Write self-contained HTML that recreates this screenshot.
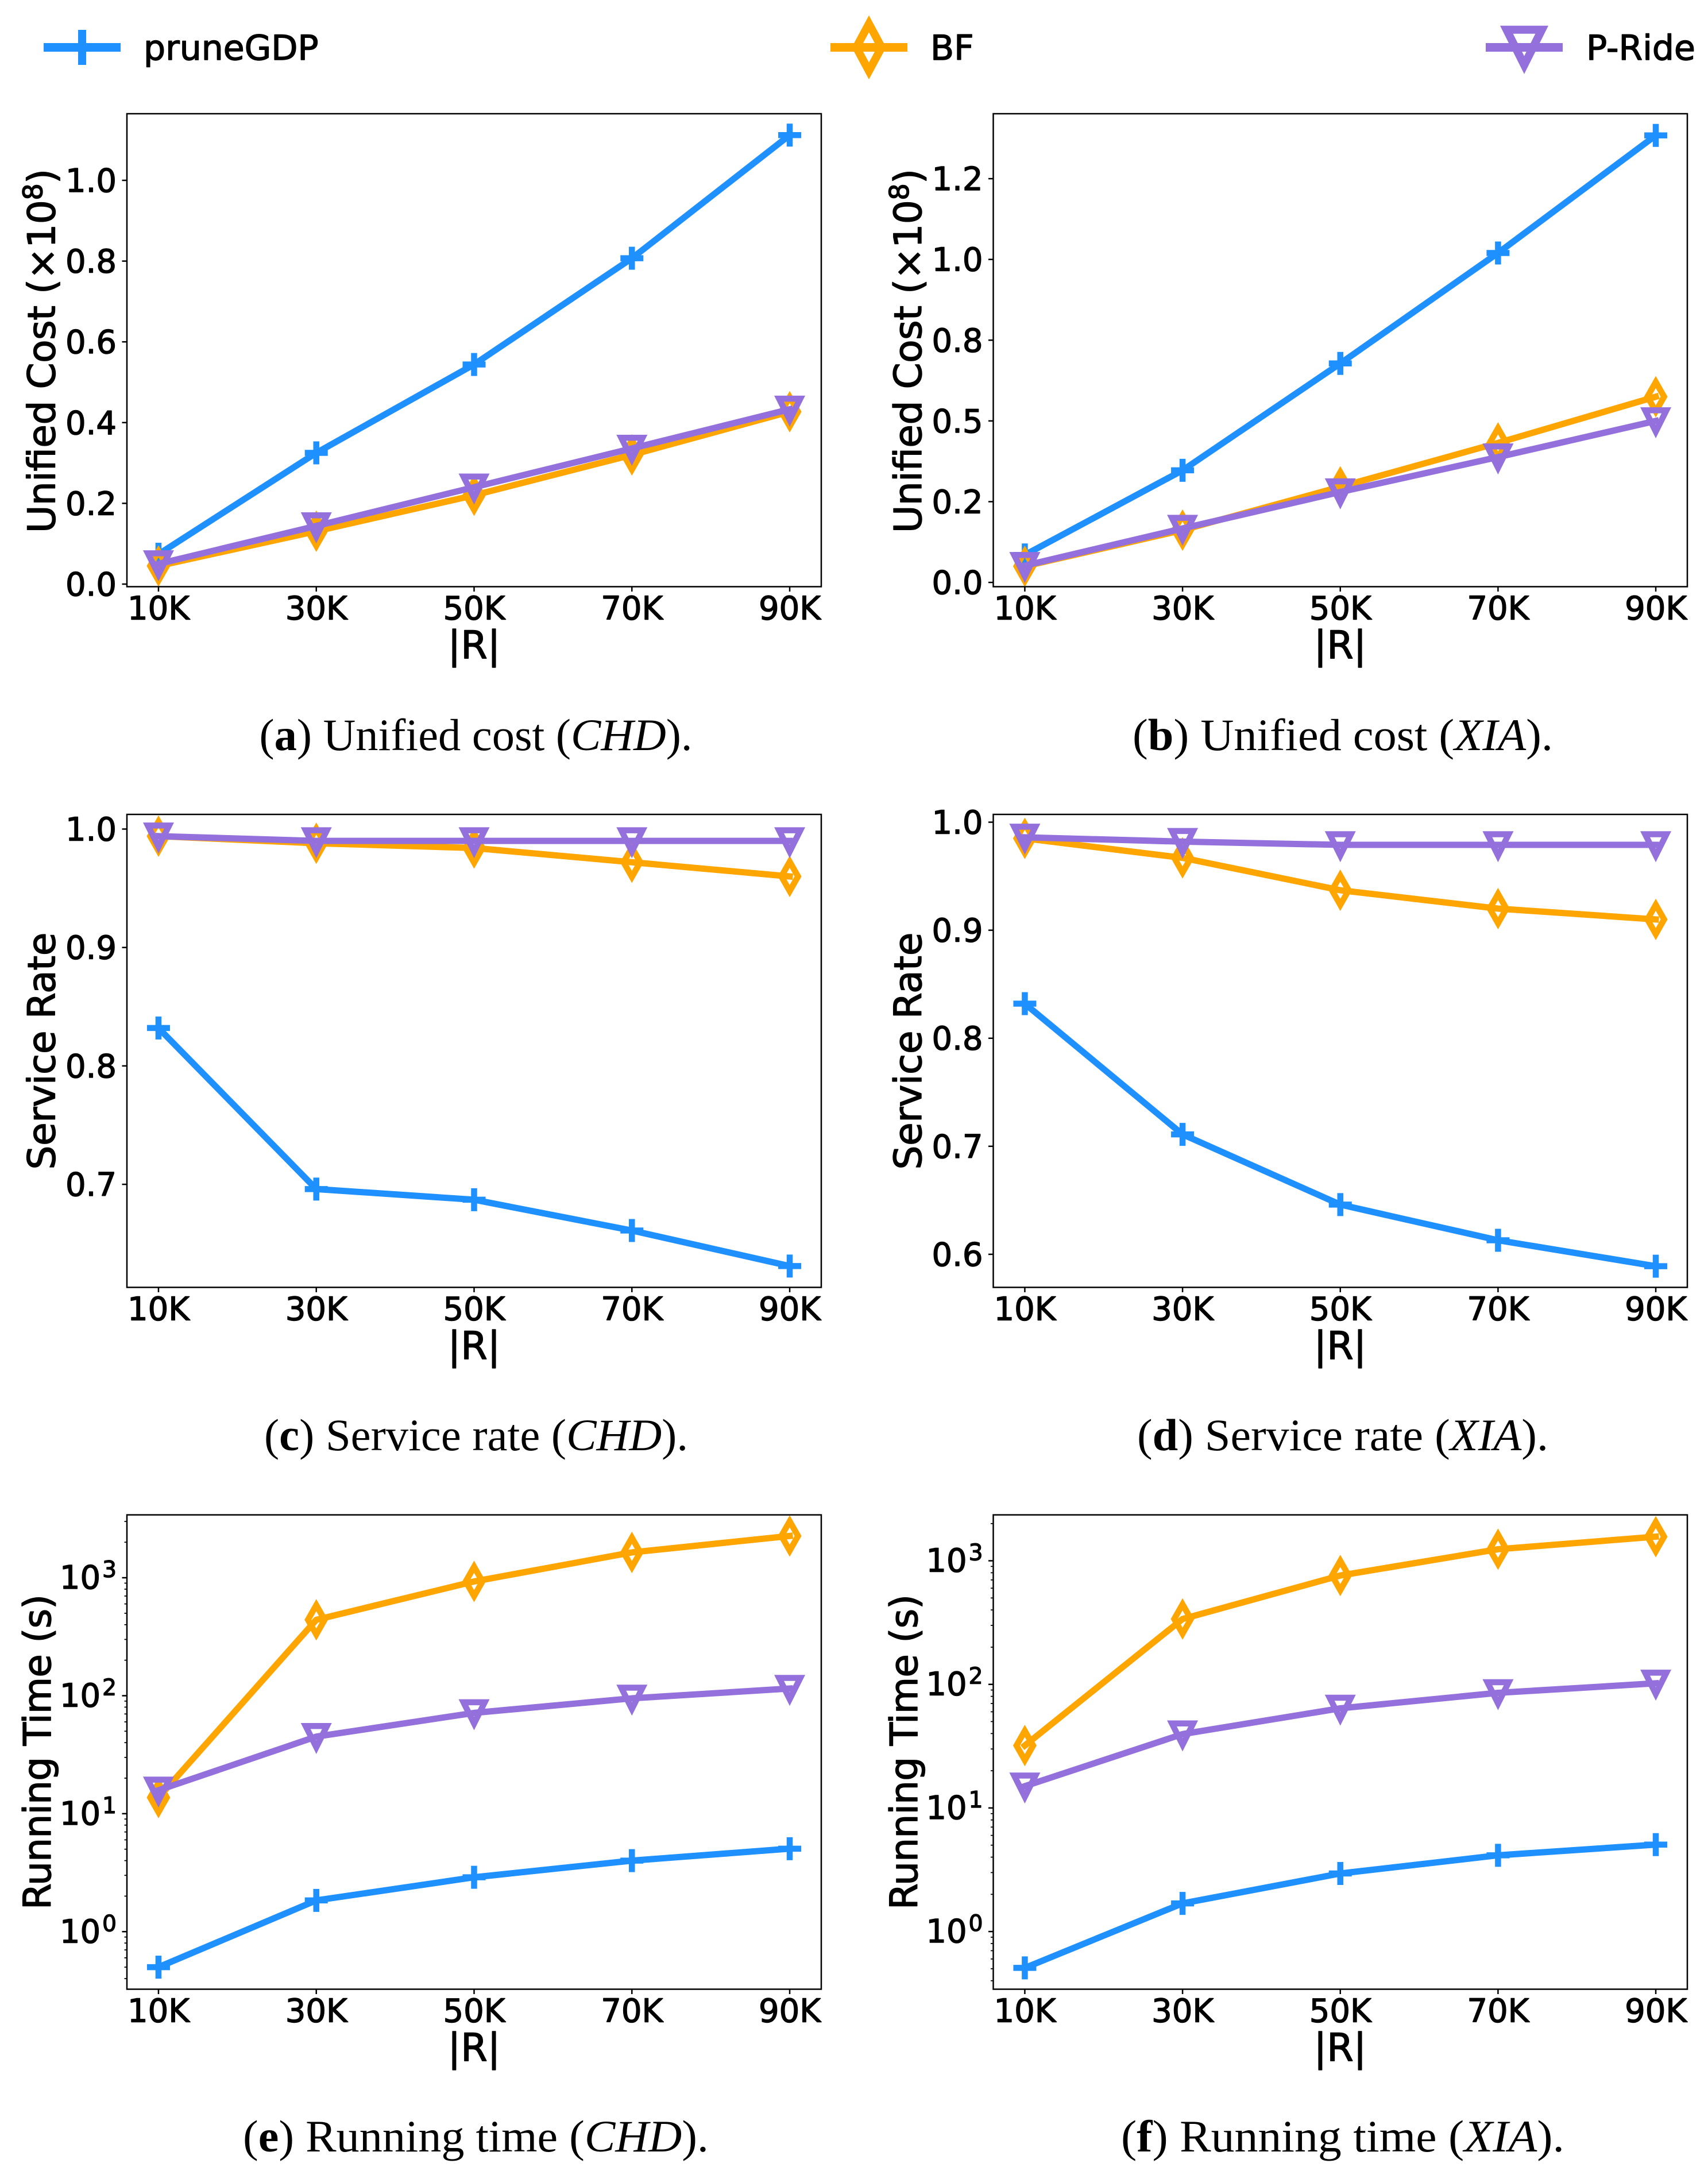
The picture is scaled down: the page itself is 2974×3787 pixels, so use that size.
<!DOCTYPE html>
<html lang="en">
<head>
<meta charset="utf-8">
<title>Unified cost, service rate and running time</title>
<style>
html,body{margin:0;padding:0;background:#fff;}
svg{display:block;}
.sans{font-family:"DejaVu Sans",sans-serif;fill:#000;stroke:#000;stroke-width:1.4px;stroke-linejoin:round;}
.serif{font-family:"Liberation Serif",serif;fill:#000;font-size:78px;}
</style>
</head>
<body>
<svg id="figure" xmlns="http://www.w3.org/2000/svg" width="2974" height="3787" viewBox="0 0 2974 3787">
  <rect x="0" y="0" width="2974" height="3787" fill="#fff"/>

  <g>
    <g>
      <line x1="76" x2="210" y1="82.5" y2="82.5" stroke="#1e90ff" stroke-width="15"/>
      <line x1="143" x2="143" y1="52" y2="113" stroke="#1e90ff" stroke-width="14"/>
      <text class="sans" x="250" y="104" font-size="60">pruneGDP</text>
    </g>
    <g>
      <line x1="1446" x2="1580" y1="82.5" y2="82.5" stroke="#ffa500" stroke-width="15"/>
      <path d="M1513 41.5L1535 82.5L1513 123.5L1491 82.5Z" fill="none" stroke="#ffa500" stroke-width="14" stroke-miterlimit="10"/>
      <text class="sans" x="1620" y="104" font-size="60">BF</text>
    </g>
    <g>
      <line x1="2587" x2="2721" y1="82.5" y2="82.5" stroke="#9370db" stroke-width="15"/>
      <path d="M2654 113.2L2623.3 51.8L2684.7 51.8Z" fill="none" stroke="#9370db" stroke-width="14" stroke-miterlimit="10"/>
      <text class="sans" x="2762" y="104" font-size="60">P-Ride</text>
    </g>
  </g>

  <g>
    <text class="sans" font-size="66" text-anchor="middle" textLength="634" lengthAdjust="spacing" transform="translate(95.5 611) rotate(-90)">Unified Cost (×10<tspan font-size="46" dy="-22">8</tspan><tspan dy="22">)</tspan></text>
    <text class="sans" font-size="66" text-anchor="middle" textLength="634" lengthAdjust="spacing" transform="translate(1604 611) rotate(-90)">Unified Cost (×10<tspan font-size="46" dy="-22">8</tspan><tspan dy="22">)</tspan></text>
    <text class="sans" font-size="66" text-anchor="middle" textLength="413" lengthAdjust="spacing" transform="translate(95.5 1830) rotate(-90)">Service Rate</text>
    <text class="sans" font-size="66" text-anchor="middle" textLength="413" lengthAdjust="spacing" transform="translate(1604 1830) rotate(-90)">Service Rate</text>
    <text class="sans" font-size="66" text-anchor="middle" textLength="549" lengthAdjust="spacing" transform="translate(88 3050.5) rotate(-90)">Running Time (s)</text>
    <text class="sans" font-size="66" text-anchor="middle" textLength="549" lengthAdjust="spacing" transform="translate(1597 3050.5) rotate(-90)">Running Time (s)</text>
  </g>

  <g>
    <text class="sans" font-size="67" text-anchor="middle" x="825.5" y="1146">|R|</text>
    <text class="sans" font-size="67" text-anchor="middle" x="2333.5" y="1146">|R|</text>
    <text class="sans" font-size="67" text-anchor="middle" x="825.5" y="2366">|R|</text>
    <text class="sans" font-size="67" text-anchor="middle" x="2333.5" y="2366">|R|</text>
    <text class="sans" font-size="67" text-anchor="middle" x="825.5" y="3588">|R|</text>
    <text class="sans" font-size="67" text-anchor="middle" x="2333.5" y="3588">|R|</text>
  </g>

  <g>
    <text class="serif" x="451.5" y="1306" textLength="754" lengthAdjust="spacingAndGlyphs">(<tspan font-weight="bold">a</tspan>) Unified cost (<tspan font-style="italic">CHD</tspan>).</text>
    <text class="serif" x="1972" y="1306" textLength="732" lengthAdjust="spacingAndGlyphs">(<tspan font-weight="bold">b</tspan>) Unified cost (<tspan font-style="italic">XIA</tspan>).</text>
    <text class="serif" x="460" y="2525" textLength="738" lengthAdjust="spacingAndGlyphs">(<tspan font-weight="bold">c</tspan>) Service rate (<tspan font-style="italic">CHD</tspan>).</text>
    <text class="serif" x="1980" y="2525" textLength="716" lengthAdjust="spacingAndGlyphs">(<tspan font-weight="bold">d</tspan>) Service rate (<tspan font-style="italic">XIA</tspan>).</text>
    <text class="serif" x="423" y="3746" textLength="811" lengthAdjust="spacingAndGlyphs">(<tspan font-weight="bold">e</tspan>) Running time (<tspan font-style="italic">CHD</tspan>).</text>
    <text class="serif" x="1952" y="3746" textLength="772" lengthAdjust="spacingAndGlyphs">(<tspan font-weight="bold">f</tspan>) Running time (<tspan font-style="italic">XIA</tspan>).</text>
  </g>

  <g id="panels"></g>
</svg>

<script>
// Shared categories
const categories = ['10K', '30K', '50K', '70K', '90K'];

// (a) Unified cost, CHD (x 10^8)
const costChdPrune = [0.074, 0.325, 0.544, 0.807, 1.112];
const costChdBf = [0.045, 0.131, 0.220, 0.320, 0.427];
const costChdPride = [0.050, 0.144, 0.240, 0.336, 0.433];
const costChdTicks = [0, 0.2, 0.4, 0.6, 0.8, 1.0];
const costChdTickLabels = ['0.0', '0.2', '0.4', '0.6', '0.8', '1.0'];

// (b) Unified cost, XIA (x 10^8)
const costXiaPrune = [0.085, 0.347, 0.678, 1.020, 1.384];
const costXiaBf = [0.050, 0.162, 0.296, 0.432, 0.575];
const costXiaPride = [0.052, 0.167, 0.280, 0.388, 0.500];
const costXiaTicks = [0, 0.25, 0.5, 0.75, 1.0, 1.25];
const costXiaTickLabels = ['0.0', '0.2', '0.5', '0.8', '1.0', '1.2'];

// (c) Service rate, CHD
const rateChdPrune = [0.832, 0.696, 0.687, 0.661, 0.631];
const rateChdBf = [0.994, 0.988, 0.984, 0.972, 0.960];
const rateChdPride = [0.994, 0.990, 0.990, 0.990, 0.990];
const rateChdTicks = [0.7, 0.8, 0.9, 1.0];
const rateChdTickLabels = ['0.7', '0.8', '0.9', '1.0'];

// (d) Service rate, XIA
const rateXiaPrune = [0.832, 0.711, 0.646, 0.613, 0.589];
const rateXiaBf = [0.985, 0.967, 0.937, 0.920, 0.910];
const rateXiaPride = [0.986, 0.982, 0.979, 0.979, 0.979];
const rateXiaTicks = [0.6, 0.7, 0.8, 0.9, 1.0];
const rateXiaTickLabels = ['0.6', '0.7', '0.8', '0.9', '1.0'];

// (e) Running time, CHD (seconds)
const timeChdPrune = [0.5, 1.84, 2.89, 4.0, 5.05];
const timeChdBf = [13.7, 440, 930, 1640, 2260];
const timeChdPride = [15.8, 45, 71.5, 95, 115];

// (f) Running time, XIA (seconds)
const timeXiaPrune = [0.508, 1.69, 2.95, 4.14, 5.05];
const timeXiaBf = [32, 338, 760, 1240, 1567];
const timeXiaPride = [15.0, 39.6, 64, 85.4, 102];

// Log axis tick values
const logMajorExponents = [0, 1, 2, 3];
const logMinorFactors = [2, 3, 4, 5, 6, 7, 8, 9];

const SVG_NS = 'http://www.w3.org/2000/svg';
const BLUE = '#1e90ff', ORANGE = '#ffa500', PURPLE = '#9370db';
const LINE_W = 11, MARK_W = 10.5;

function makeEl(tag, attrs, parent) {
  const node = document.createElementNS(SVG_NS, tag);
  for (const key in attrs) node.setAttribute(key, attrs[key]);
  parent.appendChild(node);
  return node;
}

function markerPath(kind, x, y) {
  if (kind === 'plus') {
    return 'M' + (x - 20) + ' ' + y + 'H' + (x + 20) + 'M' + x + ' ' + (y - 20) + 'V' + (y + 20);
  }
  if (kind === 'diamond') {
    return 'M' + x + ' ' + (y - 25.5) + 'L' + (x + 14.5) + ' ' + y + 'L' + x + ' ' + (y + 25.5) + 'L' + (x - 14.5) + ' ' + y + 'Z';
  }
  return 'M' + x + ' ' + (y + 18.5) + 'L' + (x - 18.5) + ' ' + (y - 18.5) + 'L' + (x + 18.5) + ' ' + (y - 18.5) + 'Z';
}

function drawPanel(p) {
  const root = document.getElementById('panels');
  const g = makeEl('g', {}, root);
  
  

  const xScale = function (i) {
    return p.left + (i - (-0.2)) / 4.4 * (p.right - p.left);
  };
  const yScale = function (v) {
    const t = p.log ? Math.log10(v) : v;
    return p.bottom - (t - p.domain[0]) / (p.domain[1] - p.domain[0]) * (p.bottom - p.top);
  };

  // X ticks
  categories.forEach(function (cat, i) {
    const x = xScale(i);
    const tick = makeEl('line', { x1: x, x2: x, y1: p.bottom, y2: p.bottom + 8.5, stroke: '#000', 'stroke-width': 2.5 }, g);
    
    
    const label = makeEl('text', { x: x, y: p.bottom + 57, 'text-anchor': 'middle', 'font-size': 56, class: 'sans' }, g);
    label.textContent = cat;
    
    
  });

  // Y ticks
  if (p.log) {
    logMajorExponents.forEach(function (e) {
      const y = yScale(Math.pow(10, e));
      const tick = makeEl('line', { x1: p.left - 8.5, x2: p.left, y1: y, y2: y, stroke: '#000', 'stroke-width': 2.5 }, g);
      
      
      const label = makeEl('text', { x: p.left - 18, y: y + 19, 'text-anchor': 'end', 'font-size': 56, class: 'sans' }, g);
      
      
      label.appendChild(document.createTextNode('10'));
      const sup = makeEl('tspan', { 'font-size': 39, dy: -20, dx: 3 }, label);
      sup.textContent = String(e);
    });
    for (let e = -1; e <= 3; e++) {
      logMinorFactors.forEach(function (f) {
        const v = f * Math.pow(10, e);
        const t = Math.log10(v);
        if (t < p.domain[0] || t > p.domain[1]) return;
        const y = yScale(v);
        const tick = makeEl('line', { x1: p.left - 4.5, x2: p.left, y1: y, y2: y, stroke: '#000', 'stroke-width': 1.7 }, g);
        
        
      });
    }
  } else {
    p.ticks.forEach(function (v, i) {
      const y = yScale(v);
      const tick = makeEl('line', { x1: p.left - 8.5, x2: p.left, y1: y, y2: y, stroke: '#000', 'stroke-width': 2.5 }, g);
      
      
      const label = makeEl('text', { x: p.left - 18, y: y + 20, 'text-anchor': 'end', 'font-size': 56, class: 'sans' }, g);
      label.textContent = p.tickLabels[i];
      
      
    });
  }

  // Series
  p.series.forEach(function (s) {
    const sg = makeEl('g', {}, g);
    
    
    const pts = s.values.map(function (v, i) {
      return xScale(i).toFixed(2) + ',' + yScale(v).toFixed(2);
    }).join(' ');
    const line = makeEl('polyline', {
      points: pts, fill: 'none', stroke: s.color, 'stroke-width': LINE_W,
      'stroke-linecap': 'square', 'stroke-linejoin': 'round'
    }, sg);
    
    
    s.values.forEach(function (v, i) {
      const mark = makeEl('path', {
        d: markerPath(s.kind, xScale(i), yScale(v)), fill: 'none', stroke: s.color,
        'stroke-width': MARK_W, 'stroke-miterlimit': 10
      }, sg);
      
      
    });
  });

  // Frame
  const frame = makeEl('rect', {
    x: p.left, y: p.top, width: p.right - p.left, height: p.bottom - p.top,
    fill: 'none', stroke: '#000', 'stroke-width': 2.5
  }, g);
  
  
}

function seriesOf(prune, bf, pride) {
  return [
    { name: 'prunegdp', color: BLUE, kind: 'plus', values: prune },
    { name: 'bf', color: ORANGE, kind: 'diamond', values: bf },
    { name: 'p-ride', color: PURPLE, kind: 'triangle', values: pride }
  ];
}

const COL_L = { left: 221, right: 1430 };
const COL_R = { left: 1729.5, right: 2938 };
const ROW_1 = { top: 198, bottom: 1021.5 };
const ROW_2 = { top: 1418, bottom: 2241.5 };
const ROW_3 = { top: 2637.6, bottom: 3463.5 };

drawPanel({ id: 'a', left: COL_L.left, right: COL_L.right, top: ROW_1.top, bottom: ROW_1.bottom,
  domain: [-0.0064, 1.165], ticks: costChdTicks, tickLabels: costChdTickLabels,
  series: seriesOf(costChdPrune, costChdBf, costChdPride) });
drawPanel({ id: 'b', left: COL_R.left, right: COL_R.right, top: ROW_1.top, bottom: ROW_1.bottom,
  domain: [-0.0132, 1.4511], ticks: costXiaTicks, tickLabels: costXiaTickLabels,
  series: seriesOf(costXiaPrune, costXiaBf, costXiaPride) });
drawPanel({ id: 'c', left: COL_L.left, right: COL_L.right, top: ROW_2.top, bottom: ROW_2.bottom,
  domain: [0.613, 1.01237], ticks: rateChdTicks, tickLabels: rateChdTickLabels,
  series: seriesOf(rateChdPrune, rateChdBf, rateChdPride) });
drawPanel({ id: 'd', left: COL_R.left, right: COL_R.right, top: ROW_2.top, bottom: ROW_2.bottom,
  domain: [0.5694, 1.0072], ticks: rateXiaTicks, tickLabels: rateXiaTickLabels,
  series: seriesOf(rateXiaPrune, rateXiaBf, rateXiaPride) });
drawPanel({ id: 'e', log: true, left: COL_L.left, right: COL_L.right, top: ROW_3.top, bottom: ROW_3.bottom,
  domain: [-0.488, 3.533],
  series: seriesOf(timeChdPrune, timeChdBf, timeChdPride) });
drawPanel({ id: 'f', log: true, left: COL_R.left, right: COL_R.right, top: ROW_3.top, bottom: ROW_3.bottom,
  domain: [-0.4665, 3.3715],
  series: seriesOf(timeXiaPrune, timeXiaBf, timeXiaPride) });
</script>
</body>
</html>
